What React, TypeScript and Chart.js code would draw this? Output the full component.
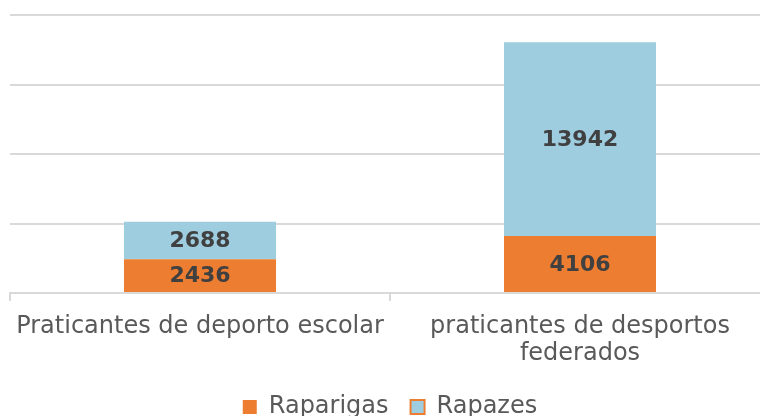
import React, { useEffect, useRef } from "react";
import { Chart, registerables } from "chart.js";

Chart.register(...registerables);

const categories: (string | string[])[] = [
  "Praticantes de deporto escolar",
  ["praticantes de desportos", "federados"],
];
const raparigas = [2436, 4106];
const rapazes = [2688, 13942];
const seriesNames = ["Raparigas", "Rapazes"];
const yMax = 20000;
const yStep = 5000;

const ORANGE = "#ED7D31";
const BLUE = "#9ECDE0";
const GRID = "#D9D9D9";
const TEXT = "#595959";
const LABEL = "#404040";
const FONT = "'DejaVu Sans', sans-serif";

const valueLabels = {
  id: "valueLabels",
  afterDatasetsDraw(chart: any) {
    const ctx = chart.ctx;
    ctx.save();
    ctx.font = `bold 22px ${FONT}`;
    ctx.fillStyle = LABEL;
    ctx.textAlign = "center";
    ctx.textBaseline = "middle";
    chart.data.datasets.forEach((ds: any, i: number) => {
      const meta = chart.getDatasetMeta(i);
      meta.data.forEach((el: any, j: number) => {
        const cy = (el.y + el.base) / 2;
        ctx.fillText(String(ds.data[j]), el.x, cy + 1);
      });
    });
    ctx.restore();
  },
};

export default function App() {
  const ref = useRef<HTMLCanvasElement>(null);
  useEffect(() => {
    if (!ref.current) return;
    const chart = new Chart(ref.current, {
      type: "bar",
      data: {
        labels: categories,
        datasets: [
          {
            label: seriesNames[0],
            data: raparigas,
            backgroundColor: ORANGE,
            borderWidth: 0,
            categoryPercentage: 1,
            barPercentage: 0.4,
          },
          {
            label: seriesNames[1],
            data: rapazes,
            backgroundColor: BLUE,
            borderWidth: 0,
            categoryPercentage: 1,
            barPercentage: 0.4,
          },
        ],
      },
      options: {
        animation: false,
        responsive: false,
        devicePixelRatio: 1,
        layout: { padding: { left: 10, right: 2, top: 15, bottom: 0 } },
        scales: {
          x: {
            stacked: true,
            grid: {
              drawOnChartArea: false,
              drawTicks: true,
              tickLength: 8,
              color: GRID,
              lineWidth: 2,
              offset: true,
            },
            border: { display: true, color: GRID, width: 2 },
            ticks: {
              color: TEXT,
              font: { family: FONT, size: 24, lineHeight: 1.1 },
              padding: 13,
              maxRotation: 0,
              autoSkip: false,
            },
            afterFit(scale: any) {
              scale.height = 80;
            },
          },
          y: {
            stacked: true,
            min: 0,
            max: yMax,
            ticks: { display: false, stepSize: yStep },
            grid: { color: GRID, lineWidth: 2, drawTicks: false },
            border: { display: false },
          },
        },
        plugins: {
          tooltip: { enabled: false },
          legend: {
            position: "bottom",
            labels: {
              color: TEXT,
              font: { family: FONT, size: 24 },
              boxWidth: 14,
              boxHeight: 14,
              padding: 22,
              generateLabels: () => [
                {
                  text: seriesNames[0],
                  fillStyle: ORANGE,
                  strokeStyle: ORANGE,
                  lineWidth: 0,
                  fontColor: TEXT,
                  datasetIndex: 0,
                  hidden: false,
                },
                {
                  text: seriesNames[1],
                  fillStyle: BLUE,
                  strokeStyle: ORANGE,
                  lineWidth: 2,
                  fontColor: TEXT,
                  datasetIndex: 1,
                  hidden: false,
                },
              ],
            },
          },
        },
      },
      plugins: [valueLabels],
    });
    return () => chart.destroy();
  }, []);
  return (
    <div
      style={{
        position: "absolute",
        left: 0,
        top: 0,
        width: 760,
        height: 416,
        overflow: "hidden",
        background: "#fff",
      }}
    >
      <canvas ref={ref} width={772} height={429} style={{ width: 772, height: 429, display: "block" }} />
    </div>
  );
}
